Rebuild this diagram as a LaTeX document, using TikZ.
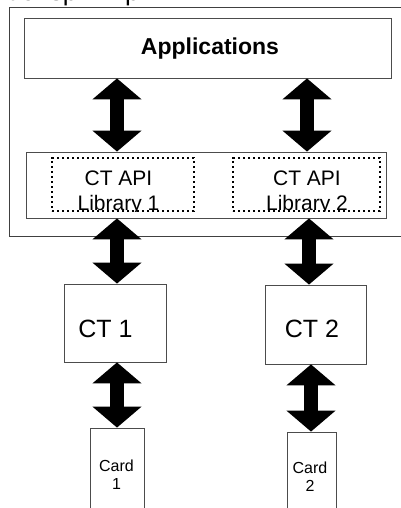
\documentclass[tikz,border=0pt]{standalone}
\usepackage{fontspec}
\setmainfont{Liberation Sans}
\usetikzlibrary{arrows.meta}
\begin{document}
\begin{tikzpicture}[x=1pt,y=-1pt,
  box/.style={draw=black!70,line width=0.8pt,rectangle,inner sep=0pt},
  libbox/.style={draw=black,line width=1.4pt,dash pattern=on 2.4pt off 2.6pt,rectangle,inner sep=0pt},
  biarrow/.style={line width=14pt,{Triangle[width=48pt,length=21pt]}-{Triangle[width=48pt,length=21pt]}},
  lbl/.style={inner sep=0pt,align=center}]
\useasboundingbox (0,0) rectangle (401,508);
% heading, mostly cut off by the page edge
\node[anchor=base east,inner sep=0pt,font=\fontsize{26}{30}\selectfont] (head) at (147,1) {Funktionsprinzip:};
% outer frame
\draw[draw=black!75,line width=0.9pt] (430,7) -- (9,7) -- (9,236.5) -- (430,236.5);
% applications
\node[box,minimum width=367pt,minimum height=60pt] (app) at (207.5,48) {};
\node[lbl,font=\bfseries\fontsize{23}{26}\selectfont] (appt) at (210,49) {Applications};
% API box
\node[box,minimum width=360pt,minimum height=66pt] (api) at (206,185) {};
\node[libbox,minimum width=142pt,minimum height=53pt] (lib1) at (123,184.5) {};
\node[libbox,minimum width=147pt,minimum height=53pt] (lib2) at (306.5,184.5) {};
\begin{scope}
\clip (lib1.north west) rectangle (lib1.south east);
\node[anchor=base,inner sep=0pt,align=center,font=\fontsize{21}{25}\selectfont] (lib1t) at (118.5,210) {CT API\\Library 1};
\end{scope}
\begin{scope}
\clip (lib2.north west) rectangle (lib2.south east);
\node[anchor=base,inner sep=0pt,align=center,font=\fontsize{21}{25}\selectfont] (lib2t) at (307,210) {CT API\\Library 2};
\end{scope}
% terminals
\node[box,minimum width=102pt,minimum height=78pt] (ct1) at (115,323) {};
\node[lbl,font=\fontsize{25}{28}\selectfont] (ct1t) at (105.5,328.5) {CT 1};
\node[box,minimum width=101pt,minimum height=79pt] (ct2) at (315.5,324.5) {};
\node[lbl,font=\fontsize{25}{28}\selectfont] (ct2t) at (312,329) {CT 2};
% cards
\node[box,minimum width=54pt,minimum height=94pt] (card1) at (117,475) {};
\node[lbl,font=\fontsize{16}{18}\selectfont] (card1t) at (116.5,475) {Card\\1};
\node[box,minimum width=49pt,minimum height=90pt] (card2) at (311.5,477) {};
\node[lbl,font=\fontsize{16}{18}\selectfont] (card2t) at (310,477) {Card\\2};
% double arrows
\coordinate (c1) at (117,0);
\coordinate (c2) at (307,0);
\coordinate (c3) at (309,0);
\coordinate (c4) at (311,0);
\draw[biarrow] (app.south -| c1) -- (api.north -| c1);
\draw[biarrow] (app.south -| c2) -- (api.north -| c2);
\draw[biarrow] (api.south -| c1) -- (ct1.north -| c1);
\draw[biarrow] (api.south -| c3) -- (ct2.north -| c3);
\draw[biarrow] (ct1.south -| c1) -- (card1.north -| c1);
\draw[biarrow] (ct2.south -| c4) -- (card2.north -| c4);
\end{tikzpicture}
\end{document}
